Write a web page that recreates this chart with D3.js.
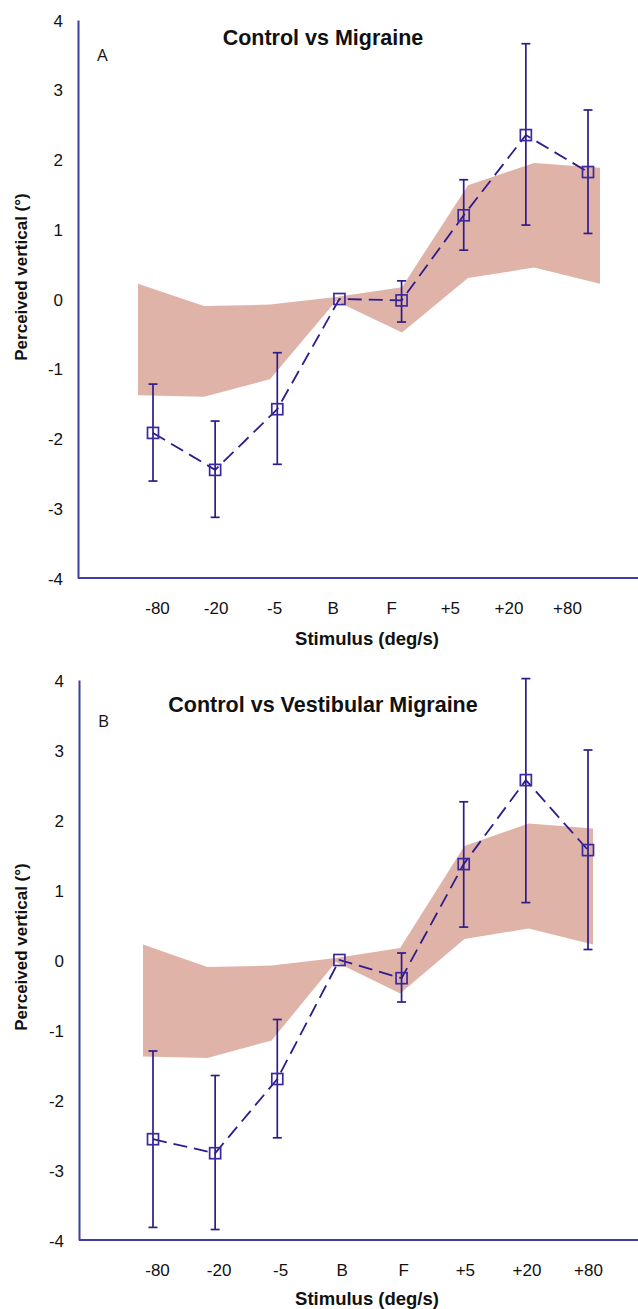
<!DOCTYPE html>
<html>
<head>
<meta charset="utf-8">
<script src="https://cdn.jsdelivr.net/npm/d3@7"></script>
<style>
  body { margin: 0; background: #fff; }
  svg text { font-family: "Liberation Sans", Arial, sans-serif; fill: #111; }
</style>
</head>
<body>
<div id="chart"></div>
<script>
// categories on the x axis
const stimuli = ["-80", "-20", "-5", "B", "F", "+5", "+20", "+80"];

// control group range (shaded band), same in both panels
const controlUpper = [0.22, -0.10, -0.08, 0.03, 0.17, 1.63, 1.95, 1.88];
const controlLower = [-1.38, -1.40, -1.15, -0.03, -0.48, 0.30, 0.45, 0.22];

// panel A: migraine group, mean and error bar ends
const migraineMean  = [-1.92, -2.45, -1.58, 0.00, -0.02, 1.20, 2.35, 1.82];
const migraineHigh  = [-1.22, -1.75, -0.77, 0.00, 0.26, 1.71, 3.66, 2.71];
const migraineLow   = [-2.61, -3.13, -2.37, 0.00, -0.33, 0.70, 1.06, 0.94];

// panel B: vestibular migraine group
const vestMean = [-2.56, -2.76, -1.70, 0.00, -0.26, 1.37, 2.57, 1.57];
const vestHigh = [-1.30, -1.65, -0.85, 0.00, 0.10, 2.26, 4.02, 3.00];
const vestLow  = [-3.82, -3.85, -2.54, 0.00, -0.60, 0.47, 0.82, 0.15];

const yTicks = [-4, -3, -2, -1, 0, 1, 2, 3, 4];

const axisColor = "#3e3e9e";
const lineColor = "#2e1c8a";
const bandColor = "#e0b3a8";

const svg = d3.select("#chart").append("svg")
  .attr("width", 638)
  .attr("height", 1309);

function drawPanel(p) {
  const g = svg.append("g");

  const y = d3.scaleLinear().domain([-4, 4]).range([p.bottom, p.top]);
  // the figure places data, band and labels on slightly different grids
  const xData = d3.scalePoint().domain(stimuli).range(p.dataRange);
  const xBand = d3.scalePoint().domain(stimuli).range(p.bandRange);
  const xLabel = d3.scalePoint().domain(stimuli).range(p.labelRange);

  // control band
  const band = stimuli.map((s, i) => ({s: s, hi: controlUpper[i], lo: controlLower[i]}));
  g.append("path")
    .datum(band)
    .attr("fill", bandColor)
    .attr("d", d3.area()
      .x(d => xBand(d.s))
      .y0(d => y(d.lo))
      .y1(d => y(d.hi)));

  // axes
  g.append("g")
    .attr("transform", "translate(" + p.axisX + ",0)")
    .call(d3.axisLeft(y).tickValues(yTicks).tickSize(0).tickPadding(15).tickFormat(d => String(d)))
    .call(a => a.select(".domain").attr("stroke", axisColor).attr("stroke-width", 2))
    .call(a => a.selectAll(".tick text")
      .attr("font-family", null).style("font-size", "17px").attr("dy", "0.36em"));

  g.append("line")
    .attr("x1", p.axisX).attr("x2", 638)
    .attr("y1", y(-4)).attr("y2", y(-4))
    .attr("stroke", axisColor).attr("stroke-width", 2);

  g.append("g")
    .attr("transform", "translate(0," + y(-4) + ")")
    .call(d3.axisBottom(xLabel).tickSize(0).tickPadding(24))
    .call(a => a.select(".domain").remove())
    .call(a => a.selectAll(".tick text").attr("font-family", null).style("font-size", "17px"));

  // series
  const pts = stimuli.map((s, i) => ({s: s, m: p.mean[i], hi: p.high[i], lo: p.low[i]}));

  g.append("path")
    .datum(pts)
    .attr("fill", "none")
    .attr("stroke", lineColor)
    .attr("stroke-width", 1.8)
    .attr("stroke-dasharray", "14,7")
    .attr("d", d3.line().x(d => xData(d.s)).y(d => y(d.m)));

  const bars = g.selectAll(".err").data(pts.filter(d => d.hi !== d.lo))
    .enter().append("g").attr("class", "err")
    .attr("stroke", lineColor).attr("stroke-width", 1.7);
  bars.append("line")
    .attr("x1", d => xData(d.s)).attr("x2", d => xData(d.s))
    .attr("y1", d => y(d.hi)).attr("y2", d => y(d.lo));
  bars.append("line")
    .attr("x1", d => xData(d.s) - 4.5).attr("x2", d => xData(d.s) + 4.5)
    .attr("y1", d => y(d.hi)).attr("y2", d => y(d.hi));
  bars.append("line")
    .attr("x1", d => xData(d.s) - 4.5).attr("x2", d => xData(d.s) + 4.5)
    .attr("y1", d => y(d.lo)).attr("y2", d => y(d.lo));

  g.selectAll(".mark").data(pts)
    .enter().append("rect")
      .attr("class", "mark")
      .attr("x", d => xData(d.s) - 5.5)
      .attr("y", d => y(d.m) - 5.5)
      .attr("width", 11).attr("height", 11)
      .attr("fill", "none")
      .attr("stroke", "#3a2aa0")
      .attr("stroke-width", 1.7);

  // texts
  g.append("text")
    .attr("x", 323).attr("y", p.titleY)
    .attr("text-anchor", "middle")
    .attr("font-size", 21.5).attr("font-weight", "bold")
    .text(p.title);

  g.append("text")
    .attr("x", p.axisX + 19).attr("y", p.letterY)
    .style("font-size", "17px")
    .style("font-family", "'Open Sans', sans-serif")
    .text(p.letter);

  g.append("text")
    .attr("transform", "translate(27," + p.yLabelY + ") rotate(-90)")
    .attr("text-anchor", "middle")
    .attr("font-size", 17).attr("font-weight", "bold")
    .text("Perceived vertical (°)");

  g.append("text")
    .attr("x", 367).attr("y", p.xLabelY)
    .attr("text-anchor", "middle")
    .attr("font-size", 18.5).attr("font-weight", "bold")
    .text("Stimulus (deg/s)");
}

drawPanel({
  top: 20, bottom: 578, axisX: 78,
  dataRange: [153, 588], bandRange: [138, 600], labelRange: [157, 567],
  mean: migraineMean, high: migraineHigh, low: migraineLow,
  title: "Control vs Migraine", titleY: 45,
  letter: "A", letterY: 61,
  yLabelY: 277, xLabelY: 645
});

drawPanel({
  top: 680, bottom: 1240, axisX: 79,
  dataRange: [153, 588], bandRange: [143, 593], labelRange: [157, 588],
  mean: vestMean, high: vestHigh, low: vestLow,
  title: "Control vs Vestibular Migraine", titleY: 712,
  letter: "B", letterY: 727,
  yLabelY: 947, xLabelY: 1305
});
</script>
</body>
</html>
